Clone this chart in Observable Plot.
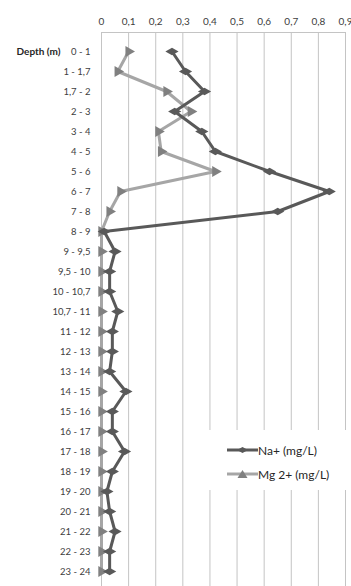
<!DOCTYPE html>
<html>
<head>
<meta charset="utf-8">
<script src="https://cdn.jsdelivr.net/npm/d3@7"></script>
<script src="https://cdn.jsdelivr.net/npm/@observablehq/plot@0.6"></script>
<style>
  html, body { margin: 0; padding: 0; background: #fff; overflow: hidden; }
  #wrap { position: relative; width: 351px; height: 586px; overflow: hidden; }
  #legend { position: absolute; left: 207px; top: 430px; width: 144px; height: 60px; background: #fff;
            font-family: Lato, "Open Sans", sans-serif; font-size: 12px; color: #262626; }
  .item { position: absolute; left: 20px; display: flex; align-items: center; }
  .item svg { display: block; }
</style>
</head>
<body>
<div id="wrap">
  <div id="chart"></div>
  <div id="legend">
    <div class="item" style="top:12px"><svg width="31" height="16"><line x1="0" y1="8" x2="31" y2="8" stroke="#595959" stroke-width="3"/><path d="M10,8L15.5,5L21,8L15.5,11Z" fill="#595959"/></svg><span>Na+ (mg/L)</span></div>
    <div class="item" style="top:36px"><svg width="31" height="16"><line x1="0" y1="8" x2="31" y2="8" stroke="#a6a6a6" stroke-width="3"/><path d="M10.5,12L15.5,4L20.5,12Z" fill="#808080"/></svg><span>Mg 2+ (mg/L)</span></div>
  </div>
</div>
<script>
const depths = ["0 - 1","1 - 1,7","1,7 - 2","2 - 3","3 - 4","4 - 5","5 - 6","6 - 7","7 - 8","8 - 9",
  "9 - 9,5","9,5 - 10","10 - 10,7","10,7 - 11","11 - 12","12 - 13","13 - 14","14 - 15","15 - 16",
  "16 - 17","17 - 18","18 - 19","19 - 20","20 - 21","21 - 22","22 - 23","23 - 24"];
const na = [0.26,0.31,0.38,0.27,0.37,0.42,0.62,0.84,0.65,0.01,
  0.05,0.03,0.03,0.06,0.04,0.04,0.03,0.09,0.04,
  0.04,0.085,0.04,0.02,0.03,0.05,0.03,0.03];
const mg = [0.10,0.06,0.24,0.33,0.21,0.22,0.42,0.07,0.03,0,
  0,0,0,0,0,0,0,0,0,
  0,0,0,0,0,0,0,0];
const xTicks = [0,0.1,0.2,0.3,0.4,0.5,0.6,0.7,0.8,0.9];

const data = depths.map((d, i) => ({depth: d, na: na[i], mg: mg[i]}));
const fmt = v => v === 0 ? "0" : String(+v.toFixed(1)).replace(".", ",");

const chart = Plot.plot({
  width: 351,
  height: 590,
  marginTop: 32,
  marginBottom: 0,
  marginLeft: 101,
  marginRight: 6,
  style: {fontFamily: "Lato, 'Open Sans', sans-serif", fontSize: "10px", color: "#404040", background: "#fff"},
  x: {domain: [0, 0.9], axis: null},
  y: {domain: depths, type: "point", padding: 0.5, axis: null},
  marks: [
    Plot.ruleX(xTicks, {stroke: "#c4c4c4", strokeWidth: 1}),
    Plot.frame({anchor: "top", stroke: "#c4c4c4"}),
    Plot.axisX(xTicks, {anchor: "top", tickSize: 0, tickPadding: 8, tickFormat: fmt, label: null, fill: "#404040", fontSize: 10}),
    Plot.axisY({anchor: "left", tickSize: 0, tickPadding: 11, label: null, fill: "#404040", fontSize: 9.5}),
    Plot.text(["Depth (m)"], {y: () => depths[0], frameAnchor: "left", dx: -41, textAnchor: "end", fontWeight: "bold", fontSize: 10, fill: "#262626"}),
    Plot.line(data, {x: "mg", y: "depth", stroke: "#a6a6a6", strokeWidth: 3}),
    Plot.dot(data, {x: "mg", y: "depth", symbol: "triangle", rotate: 90, r: 4.1, fill: "#808080", stroke: "none"}),
    Plot.line(data, {x: "na", y: "depth", stroke: "#595959", strokeWidth: 3}),
    Plot.dot(data, {x: "na", y: "depth", symbol: "diamond", rotate: 90, r: 4, fill: "#595959", stroke: "none"})
  ]
});
document.getElementById("chart").appendChild(chart);
</script>
</body>
</html>
